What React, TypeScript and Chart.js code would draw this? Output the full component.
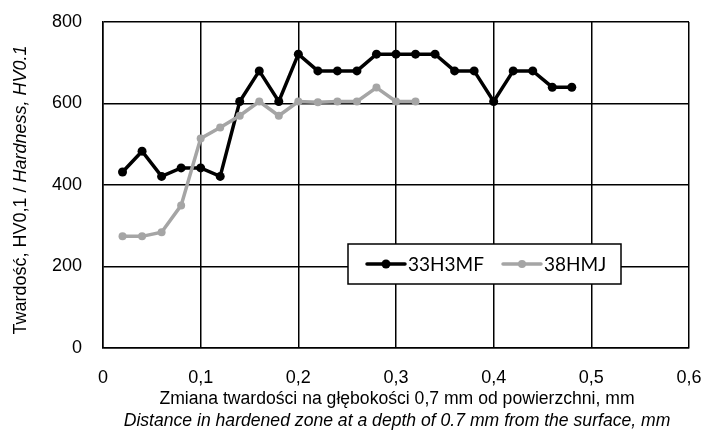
import React, { useEffect, useRef } from "react";
import { Chart, registerables } from "chart.js";

Chart.register(...registerables);

// ---- Data ----
const depth33H3MF = [0.02, 0.04, 0.06, 0.08, 0.1, 0.12, 0.14, 0.16, 0.18, 0.2, 0.22, 0.24, 0.26, 0.28, 0.3, 0.32, 0.34, 0.36, 0.38, 0.4, 0.42, 0.44, 0.46, 0.48];
const hardness33H3MF = [432, 483, 421, 442, 442, 421, 605, 680, 605, 721, 680, 680, 680, 721, 721, 721, 721, 680, 680, 605, 680, 680, 640, 640];
const depth38HMJ = [0.02, 0.04, 0.06, 0.08, 0.1, 0.12, 0.14, 0.16, 0.18, 0.2, 0.22, 0.24, 0.26, 0.28, 0.3, 0.32];
const hardness38HMJ = [274, 274, 284, 350, 514, 541, 570, 605, 570, 605, 603, 605, 605, 639, 605, 605];
const seriesNames = ["33H3MF", "38HMJ"];
const xMin = 0, xMax = 0.6, xStep = 0.1;
const yMin = 0, yMax = 800, yStep = 200;
const yTitleNormal = "Twardość, HV0,1 / ";
const yTitleItalic = "Hardness, HV0.1";
const xTitleLine1 = "Zmiana twardości na głębokości 0,7 mm od powierzchni, mm";
const xTitleLine2 = "Distance in hardened zone at a depth of 0.7 mm from the surface, mm";

const FONT = "'Liberation Sans', Arial, sans-serif";

const titlesPlugin = {
  id: "titles",
  afterDraw(chart: any) {
    const ctx = chart.ctx;
    const area = chart.chartArea;
    ctx.save();
    ctx.fillStyle = "#000";
    // Y title (rotated, mixed styles)
    const fy = 18;
    ctx.font = `${fy}px ${FONT}`;
    const w1 = ctx.measureText(yTitleNormal).width;
    ctx.font = `italic ${fy}px ${FONT}`;
    const w2 = ctx.measureText(yTitleItalic).width;
    const total = w1 + w2;
    ctx.translate(21, 190);
    ctx.rotate(-Math.PI / 2);
    ctx.textBaseline = "middle";
    ctx.textAlign = "left";
    ctx.font = `${fy}px ${FONT}`;
    ctx.fillText(yTitleNormal, -total / 2, 0);
    ctx.font = `italic ${fy}px ${FONT}`;
    ctx.fillText(yTitleItalic, -total / 2 + w1, 0);
    ctx.restore();

    ctx.save();
    ctx.fillStyle = "#000";
    ctx.textAlign = "center";
    ctx.textBaseline = "middle";
    const cx = (area.left + area.right) / 2 + 1;
    const fx = 17.6;
    ctx.font = `${fx}px ${FONT}`;
    ctx.fillText(xTitleLine1, cx, 399);
    ctx.font = `italic ${fx}px ${FONT}`;
    ctx.fillText(xTitleLine2, cx, 421);
    ctx.restore();
  },
};

const legendPlugin = {
  id: "boxLegend",
  afterDraw(chart: any) {
    const ctx = chart.ctx;
    const left = 348, top = 244, right = 621, bottom = 284;
    const cy = (top + bottom) / 2;
    ctx.save();
    ctx.fillStyle = "#fff";
    ctx.fillRect(left, top, right - left, bottom - top);
    ctx.strokeStyle = "#000";
    ctx.lineWidth = 1.5;
    ctx.strokeRect(left, top, right - left, bottom - top);
    const starts = [367, 503];
    chart.data.datasets.forEach((ds: any, i: number) => {
      const x0 = starts[i];
      ctx.strokeStyle = ds.borderColor;
      ctx.lineWidth = ds.borderWidth;
      ctx.lineCap = "round";
      ctx.beginPath();
      ctx.moveTo(x0, cy);
      ctx.lineTo(x0 + 38, cy);
      ctx.stroke();
      ctx.fillStyle = ds.pointBackgroundColor;
      ctx.beginPath();
      ctx.arc(x0 + 19, cy, ds.pointRadius, 0, Math.PI * 2);
      ctx.fill();
      ctx.fillStyle = "#000";
      ctx.font = `19px Lato, 'Open Sans', sans-serif`;
      ctx.textAlign = "left";
      ctx.textBaseline = "middle";
      ctx.fillText(ds.label, x0 + 41, cy + 1);
    });
    ctx.restore();
  },
};

export default function App() {
  const ref = useRef<HTMLCanvasElement | null>(null);

  useEffect(() => {
    document.body.style.margin = "0";
    if (!ref.current) return;
    const chart = new Chart(ref.current, {
      type: "line",
      data: {
        datasets: [
          {
            label: seriesNames[0],
            data: depth33H3MF.map((x, i) => ({ x, y: hardness33H3MF[i] })),
            borderColor: "#000000",
            backgroundColor: "#000000",
            pointBackgroundColor: "#000000",
            pointBorderColor: "#000000",
            borderWidth: 3.5,
            pointRadius: 4.5,
            pointBorderWidth: 0,
            order: 1,
          },
          {
            label: seriesNames[1],
            data: depth38HMJ.map((x, i) => ({ x, y: hardness38HMJ[i] })),
            borderColor: "#a5a5a5",
            backgroundColor: "#a5a5a5",
            pointBackgroundColor: "#a5a5a5",
            pointBorderColor: "#a5a5a5",
            borderWidth: 3.5,
            pointRadius: 4,
            pointBorderWidth: 0,
            order: 0,
          },
        ],
      },
      options: {
        responsive: false,
        animation: false,
        devicePixelRatio: 1,
        layout: { padding: { top: 22, right: 15, bottom: 0, left: 0 } },
        plugins: {
          legend: { display: false },
          tooltip: { enabled: false },
        },
        scales: {
          x: {
            type: "linear",
            min: xMin,
            max: xMax,
            afterFit: (s: any) => { s.height = 84; s.paddingLeft = 0; s.paddingRight = 0; },
            ticks: {
              stepSize: xStep,
              color: "#000",
              font: { family: FONT, size: 18 },
              padding: 19,
              maxRotation: 0,
              callback: (v: any) => (Number(v) === 0 ? "0" : Number(v).toFixed(1).replace(".", ",")),
            },
            grid: { color: "#000", lineWidth: 1.5, drawTicks: false },
            border: { color: "#000", width: 1.5 },
          },
          y: {
            min: yMin,
            max: yMax,
            afterFit: (s: any) => { s.width = 103; s.paddingTop = 0; s.paddingBottom = 0; },
            ticks: {
              stepSize: yStep,
              color: "#000",
              font: { family: FONT, size: 18 },
              padding: 21,
            },
            grid: { color: "#000", lineWidth: 1.5, drawTicks: false },
            border: { color: "#000", width: 1.5 },
          },
        },
      },
      plugins: [titlesPlugin, legendPlugin],
    } as any);
    return () => chart.destroy();
  }, []);

  return (
    <div style={{ width: 704, height: 432 }}>
      <canvas ref={ref} width={704} height={432} style={{ display: "block" }} />
    </div>
  );
}
